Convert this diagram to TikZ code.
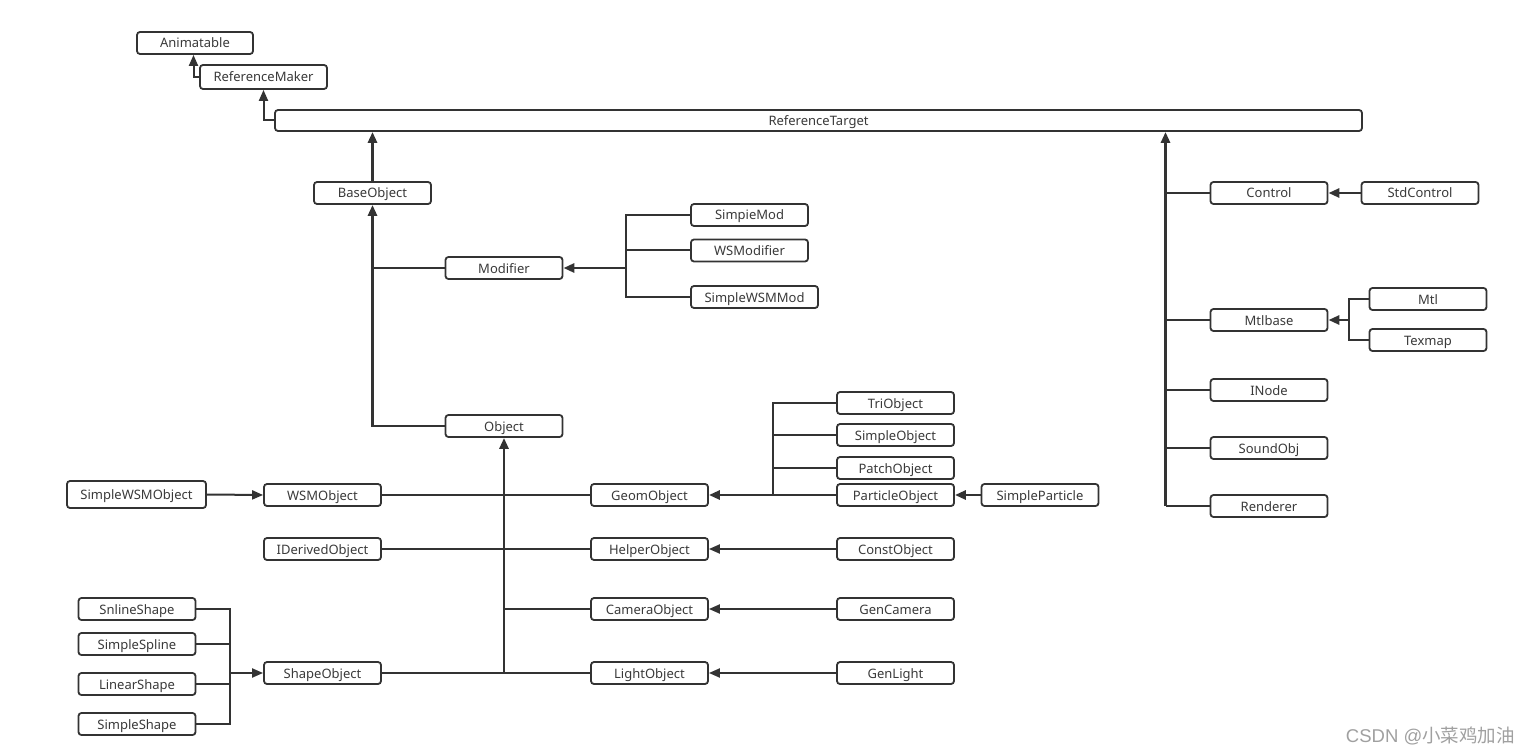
\documentclass[tikz,border=0pt]{standalone}
\usepackage{fontspec}
\setmainfont{Noto Sans}
\newfontfamily\cjk{Noto Sans CJK SC}
\newfontfamily\wmlat{Liberation Sans}
\usetikzlibrary{arrows.meta}
\definecolor{ln}{HTML}{333333}
\definecolor{tx}{HTML}{3A3A3A}
\definecolor{wmc}{HTML}{A0A0A0}
\begin{document}
\begin{tikzpicture}[x=1pt,y=-1pt,
 box/.style={draw=ln, line width=1.8pt, rounded corners=3pt, minimum width=117pt, minimum height=22pt, inner sep=0pt, text height=10pt, text depth=0pt, font=\fontsize{13}{15}\selectfont, text=tx, fill=white},
 conn/.style={draw=ln, line width=2pt},
 trunk/.style={draw=ln, line width=2.8pt},
 arr/.style={-{Triangle[length=11pt,width=9pt]}},
]
\useasboundingbox (0,0) rectangle (1529,754);
\fill[white] (0,0) rectangle (1529,754);

% nodes
\node[box, minimum width=116pt] (anim) at (195,43) {Animatable};
\node[box, minimum width=127pt, minimum height=24pt] (rm) at (263.5,77) {ReferenceMaker};
\node[box, minimum width=1087pt, minimum height=21pt] (rt) at (818.5,120.5) {ReferenceTarget};
\node[box] (base) at (372.5,193) {BaseObject};
\node[box] (mod) at (504,268) {Modifier};
\node[box] (smod) at (749.5,215) {SimpieMod};
\node[box] (wsmod) at (749.5,250.5) {WSModifier};
\node[box, minimum width=127pt] (swsmmod) at (754.5,297) {SimpleWSMMod};
\node[box] (obj) at (504,426) {Object};
\node[box] (tri) at (895.5,403) {TriObject};
\node[box] (sobj) at (895.5,435) {SimpleObject};
\node[box] (patch) at (895.5,468) {PatchObject};
\node[box] (part) at (895.5,495) {ParticleObject};
\node[box] (spart) at (1040,495) {SimpleParticle};
\node[box] (geom) at (649.5,495) {GeomObject};
\node[box] (wsmo) at (322.5,495) {WSMObject};
\node[box, minimum width=139pt, minimum height=27pt] (swsmo) at (136.5,494.5) {SimpleWSMObject};
\node[box] (ider) at (322.5,549) {IDerivedObject};
\node[box] (helper) at (649.5,549) {HelperObject};
\node[box] (const) at (895.5,549) {ConstObject};
\node[box] (snline) at (137,609) {SnlineShape};
\node[box] (sspline) at (137,644) {SimpleSpline};
\node[box] (linear) at (137,684) {LinearShape};
\node[box] (sshape) at (137,724) {SimpleShape};
\node[box] (shape) at (322.5,673) {ShapeObject};
\node[box] (cam) at (649.5,609) {CameraObject};
\node[box] (gencam) at (895.5,609) {GenCamera};
\node[box] (light) at (649.5,673) {LightObject};
\node[box] (genlight) at (895.5,673) {GenLight};
\node[box] (control) at (1269,193) {Control};
\node[box] (stdc) at (1420,193) {StdControl};
\node[box] (mtlb) at (1269,320) {Mtlbase};
\node[box] (mtl) at (1428,299) {Mtl};
\node[box] (texmap) at (1428,340) {Texmap};
\node[box] (inode) at (1269,390) {INode};
\node[box] (sound) at (1269,448) {SoundObj};
\node[box] (rend) at (1269,506) {Renderer};

% junctions
\coordinate (jm) at (626,268);
\coordinate (jg) at (773,495);
\coordinate (js) at (230,673);
\coordinate (jr) at (1165.5,0);
\coordinate (jmt) at (1349,320);

% top chain
\draw[conn,arr] (rm.west) -| ([xshift=-1.5pt]anim.south);
\draw[conn,arr] (rt.west) -| (rm.south);
\draw[trunk,arr] (base.north) -- (base.north |- rt.south);
\draw[trunk,arr] (obj.west) -| (base.south);
\draw[conn] (mod.west) -- (mod.west -| base.south);

% modifiers
\draw[conn] (smod.west) -| (jm);
\draw[conn] (wsmod.west) -| (jm);
\draw[conn] (swsmmod.west) -| (jm);
\draw[trunk,arr] (jm) -- (mod.east);

% object trunk
\draw[trunk,arr] (shape.east -| obj.south) -- (obj.south);
\draw[conn] (wsmo.east) -- (geom.west);
\draw[conn] (ider.east) -- (helper.west);
\draw[conn] (cam.west) -- (cam.west -| obj.south);
\draw[conn] (shape.east) -- (light.west);

% geom
\draw[conn] (tri.west) -| (jg);
\draw[conn] (sobj.west) -| (jg);
\draw[conn] (patch.west) -| (jg);
\draw[conn] (part.west) -- (jg);
\draw[trunk,arr] (jg) -- (geom.east);
\draw[trunk,arr] (spart.west) -- (part.east);
\draw[conn,arr] (const.west) -- (helper.east);
\draw[conn,arr] (gencam.west) -- (cam.east);
\draw[conn,arr] (genlight.west) -- (light.east);

% left
\draw[conn,arr] (swsmo.east) -- (wsmo.west);
\draw[conn] (snline.east) -| (js);
\draw[conn] (sspline.east) -| (js);
\draw[conn] (linear.east) -| (js);
\draw[conn] (sshape.east) -| (js);
\draw[conn,arr] (js) -- (shape.west);

% right
\draw[trunk,arr] (rend.west -| jr) -- (rt.south -| jr);
\draw[conn] (control.west) -- (control.west -| jr);
\draw[conn] (mtlb.west) -- (mtlb.west -| jr);
\draw[conn] (inode.west) -- (inode.west -| jr);
\draw[conn] (sound.west) -- (sound.west -| jr);
\draw[conn] (rend.west) -- (rend.west -| jr);
\draw[trunk,arr] (stdc.west) -- (control.east);
\draw[conn] (mtl.west) -| (jmt);
\draw[conn] (texmap.west) -| (jmt);
\draw[trunk,arr] (jmt) -- (mtlb.east);

% watermark
\node[anchor=east, inner sep=0pt, text=wmc, font=\fontsize{18.5}{21}\selectfont] (wm) at (1515,736) {\wmlat CSDN @\cjk 小菜鸡加油};
\end{tikzpicture}
\end{document}
